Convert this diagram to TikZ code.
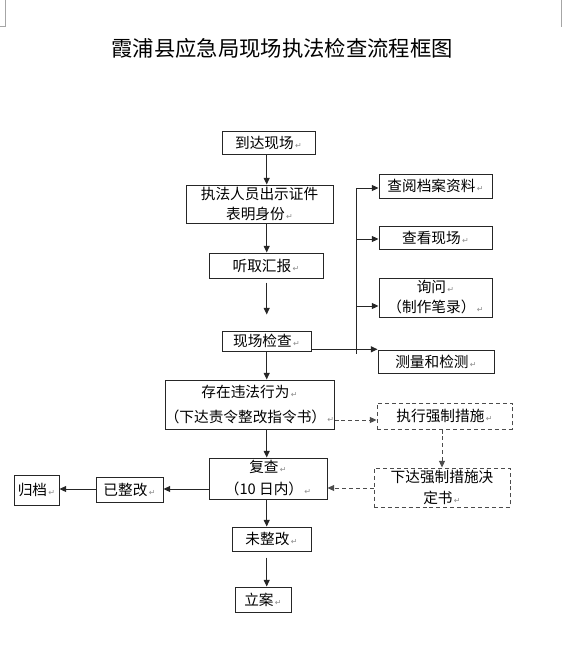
\documentclass[tikz,border=0pt]{standalone}
\usepackage{fontspec}
\setmainfont{Noto Sans CJK SC}
\newfontfamily\symf{DejaVu Sans}
\usetikzlibrary{arrows.meta,fit}
\newcommand\parmk{{\symf\fontsize{6pt}{6pt}\selectfont\color{black!45}\,↵}}
\begin{document}
\begin{tikzpicture}[x=0.75pt,y=-0.75pt,
  box/.style={draw=black!85, line width=0.75pt, inner sep=0pt},
  dbox/.style={box, draw=black!70, dash pattern=on 3pt off 2.2pt},
  txt/.style={inner sep=0pt, align=center, anchor=center,
    font=\fontsize{11pt}{13pt}\selectfont},
  arr/.style={-{Triangle[length=5pt,width=4.5pt]}, line width=0.75pt, draw=black!85},
  darr/.style={arr, draw=black!70, dash pattern=on 3pt off 2.2pt},
  ln/.style={line width=0.75pt, draw=black!85},
  cornermark/.style={line width=0.6pt, draw=black!35}]
\useasboundingbox (0,0) rectangle (562,664);
% page corner marks
\draw[cornermark] (5.5,0) -- (5.5,26) -- (0,26);
\draw[cornermark] (561,0) -- (561,26) -- (562,26);
% title
\node[font=\fontsize{16pt}{18pt}\selectfont] (t) at (282,48) {霞浦县应急局现场执法检查流程框图};
% axis coordinates
\coordinate (ax) at (266.7,0);
% boxes
\node[box, fit={(222,131) (315,154)}] (a) {};
\node[box, fit={(186,185) (333,223)}] (b) {};
\node[box, fit={(209,253) (323,278)}] (c) {};
\node[box, fit={(222,331) (311,351)}] (d) {};
\node[box, fit={(165,380) (334,429)}] (e) {};
\node[box, fit={(209,458) (327,499)}] (h) {};
\node[box, fit={(232,527) (311,551)}] (k) {};
\node[box, fit={(235,587) (291,612)}] (l) {};
\node[box, fit={(379,174) (492,198)}] (r1) {};
\node[box, fit={(379,226) (492,249)}] (r2) {};
\node[box, fit={(379,278) (492,317)}] (r3) {};
\node[box, fit={(378,350) (494,373)}] (r4) {};
\node[dbox, fit={(377,403) (512,429)}] (f) {};
\node[dbox, fit={(374,468) (510,507)}] (g) {};
\node[box, fit={(96,477) (163,502)}] (i) {};
\node[box, fit={(14,475) (59,505)}] (j) {};
% texts
\node[txt] (ta) at (a.center) {到达现场\parmk};
\node[txt, font=\fontsize{11pt}{14.5pt}\selectfont] (tb) at (b.center) {执法人员出示证件\\表明身份\parmk};
\node[txt] (tc) at (c.center) {听取汇报\parmk};
\node[txt] (td) at (d.center) {现场检查\parmk};
\node[txt, font=\fontsize{11pt}{19pt}\selectfont] (te) at (e.center) {存在违法行为\parmk\\（下达责令整改指令书）\parmk};
\node[txt, font=\fontsize{11pt}{16.5pt}\selectfont] (th) at (h.center) {复查\parmk\\（10 日内）\parmk};
\node[txt] (tk) at (k.center) {未整改\parmk};
\node[txt] (tl) at (l.center) {立案\parmk};
\node[txt] (tr1) at (r1.center) {查阅档案资料\parmk};
\node[txt] (tr2) at (r2.center) {查看现场\parmk};
\node[txt, font=\fontsize{11pt}{15pt}\selectfont] (tr3) at (r3.center) {询问\parmk\\（制作笔录）\parmk};
\node[txt] (tr4) at (r4.center) {测量和检测\parmk};
\node[txt] (tf) at (f.center) {执行强制措施\parmk};
\node[txt, font=\fontsize{11pt}{16pt}\selectfont] (tg) at (g.center) {下达强制措施决\\定书\parmk};
\node[txt] (ti) at (i.center) {已整改\parmk};
\node[txt] (tj) at (j.center) {归档\parmk};
% main arrows
\draw[arr] (a.south -| ax) -- (b.north -| ax);
\draw[arr] (b.south -| ax) -- (c.north -| ax);
\draw[arr, shorten <=3pt, shorten >=12pt] (c.south -| ax) -- (d.north -| ax);
\draw[arr] (d.south -| ax) -- (e.north -| ax);
\draw[arr] (e.south -| ax) -- (h.north -| ax);
\draw[arr] (h.south -| ax) -- (k.north -| ax);
\draw[arr, shorten <=4.5pt] (k.south -| ax) -- (l.north -| ax);
% branch
\coordinate (v1) at (356.7,188);
\coordinate (v2) at (356.7,239);
\coordinate (v3) at (356.7,306);
\coordinate (v4) at (356.7,349.3);
\coordinate (v5) at (356.7,354);
\draw[ln] (v1) -- (v5);
\draw[arr] (v1) -- (v1 -| r1.west);
\draw[arr] (v2) -- (v2 -| r2.west);
\draw[arr] (v3) -- (v3 -| r3.west);
\draw[arr] (d.east |- v4) -- (v4 -| r4.west);
% dashed path
\coordinate (yf) at (0,420);
\coordinate (xg) at (442,0);
\coordinate (yg) at (0,488);
\coordinate (yh) at (0,489);
\draw[darr] (e.east |- yf) -- (f.west |- yf);
\draw[darr] (f.south -| xg) -- (g.north -| xg);
\draw[darr] (g.west |- yg) -- (h.east |- yg);
% left arrows
\draw[arr] (h.west |- yh) -- (i.east |- yh);
\draw[arr] (i.west |- yh) -- (j.east |- yh);
\end{tikzpicture}
\end{document}
